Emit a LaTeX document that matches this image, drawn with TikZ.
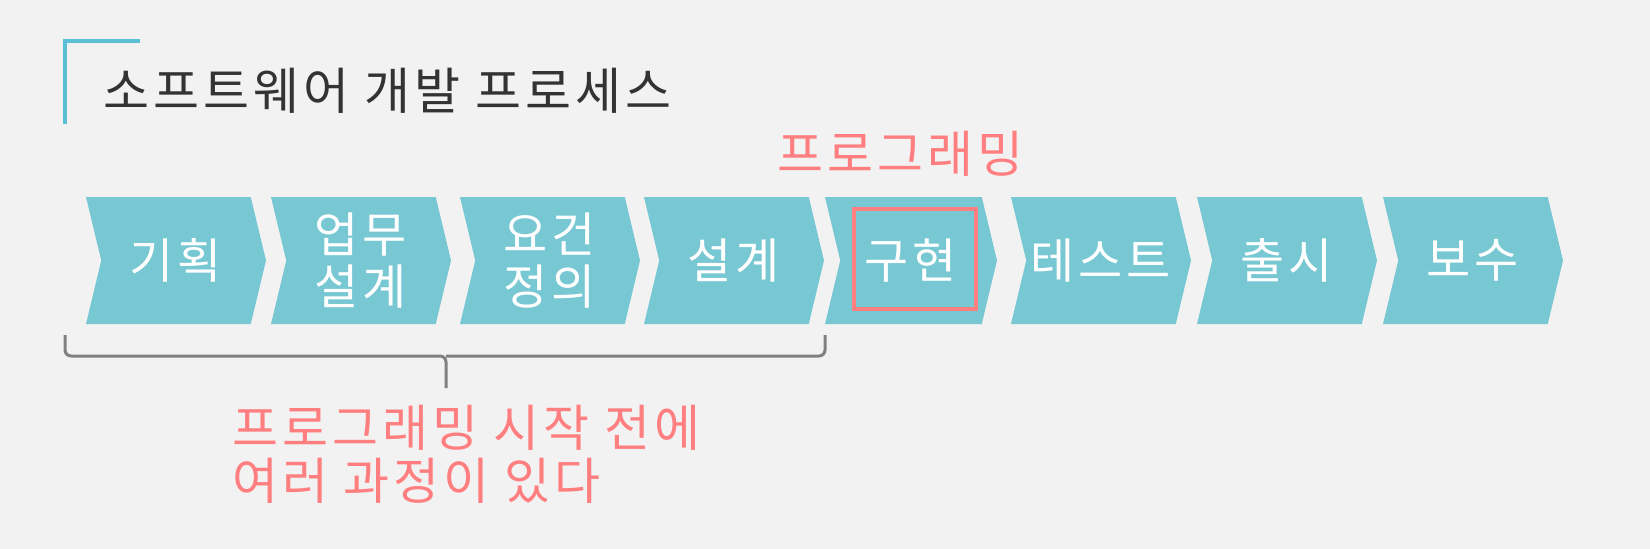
\documentclass[tikz,border=0pt]{standalone}
\usepackage{fontspec}
\setmainfont{Noto Sans CJK KR}[LetterSpace=8]
\usetikzlibrary{shapes.symbols,positioning}
\definecolor{bg}{HTML}{F2F2F2}
\definecolor{chev}{HTML}{78C8D4}
\definecolor{salmon}{HTML}{FF7F80}
\definecolor{ink}{HTML}{333333}
\definecolor{corner}{HTML}{5BC0D6}
\definecolor{brace}{HTML}{808080}

\begin{document}
\begin{tikzpicture}[x=1pt, y=-1pt, phase/.style={signal, signal from=west, signal to=east, signal pointer angle=153, fill=chev, text=white, minimum width=180pt, minimum height=127pt, inner sep=0pt, align=center, font=\fontsize{48}{52}\selectfont}, hl/.style={draw=salmon, line width=4pt, minimum width=122pt, minimum height=100pt}, note/.style={text=salmon, inner sep=0pt, align=left, font=\fontsize{50}{53}\selectfont}]
  \fill[bg] (0,0) rectangle (1650,549);
  \useasboundingbox (0,0) rectangle (1650,549);
  % title with corner mark
  \draw[corner, line width=4pt] (140,41) -- (65,41) -- (65,124);
  \node[anchor=west, inner sep=0pt, text=ink, font=\fontsize{50}{52}\selectfont] (title) at (103,91) {소프트웨어 개발 프로세스};
  % process steps
  \foreach \lbl/\cx/\w [count=\i] in {기획/176/180, {업무\\설계}/361/180, {요건\\정의}/550/180, 설계/734/180, 구현/911/172, 테스트/1101/180, 출시/1287/180, 보수/1473/180}
    \node[phase, minimum width=\w pt] (p\i) at (\cx, 260.5) {\lbl};
  \node[hl] (box) at (915,259) {};
  \node[note] (prog) at (900,154) {프로그래밍};
  % brace under the first four steps
  \coordinate (bl) at (65,335);
  \coordinate (br) at (825,335);
  \coordinate (bm) at (446,356);
  \coordinate (tip) at (446,388);
  \draw[brace, line width=3pt, rounded corners=6pt] (bl) |- (bm) -- (tip) (br) |- (bm);
  \node[note, anchor=north west] (before) at (232,405) {프로그래밍 시작 전에\\여러 과정이 있다};
\end{tikzpicture}
\end{document}
